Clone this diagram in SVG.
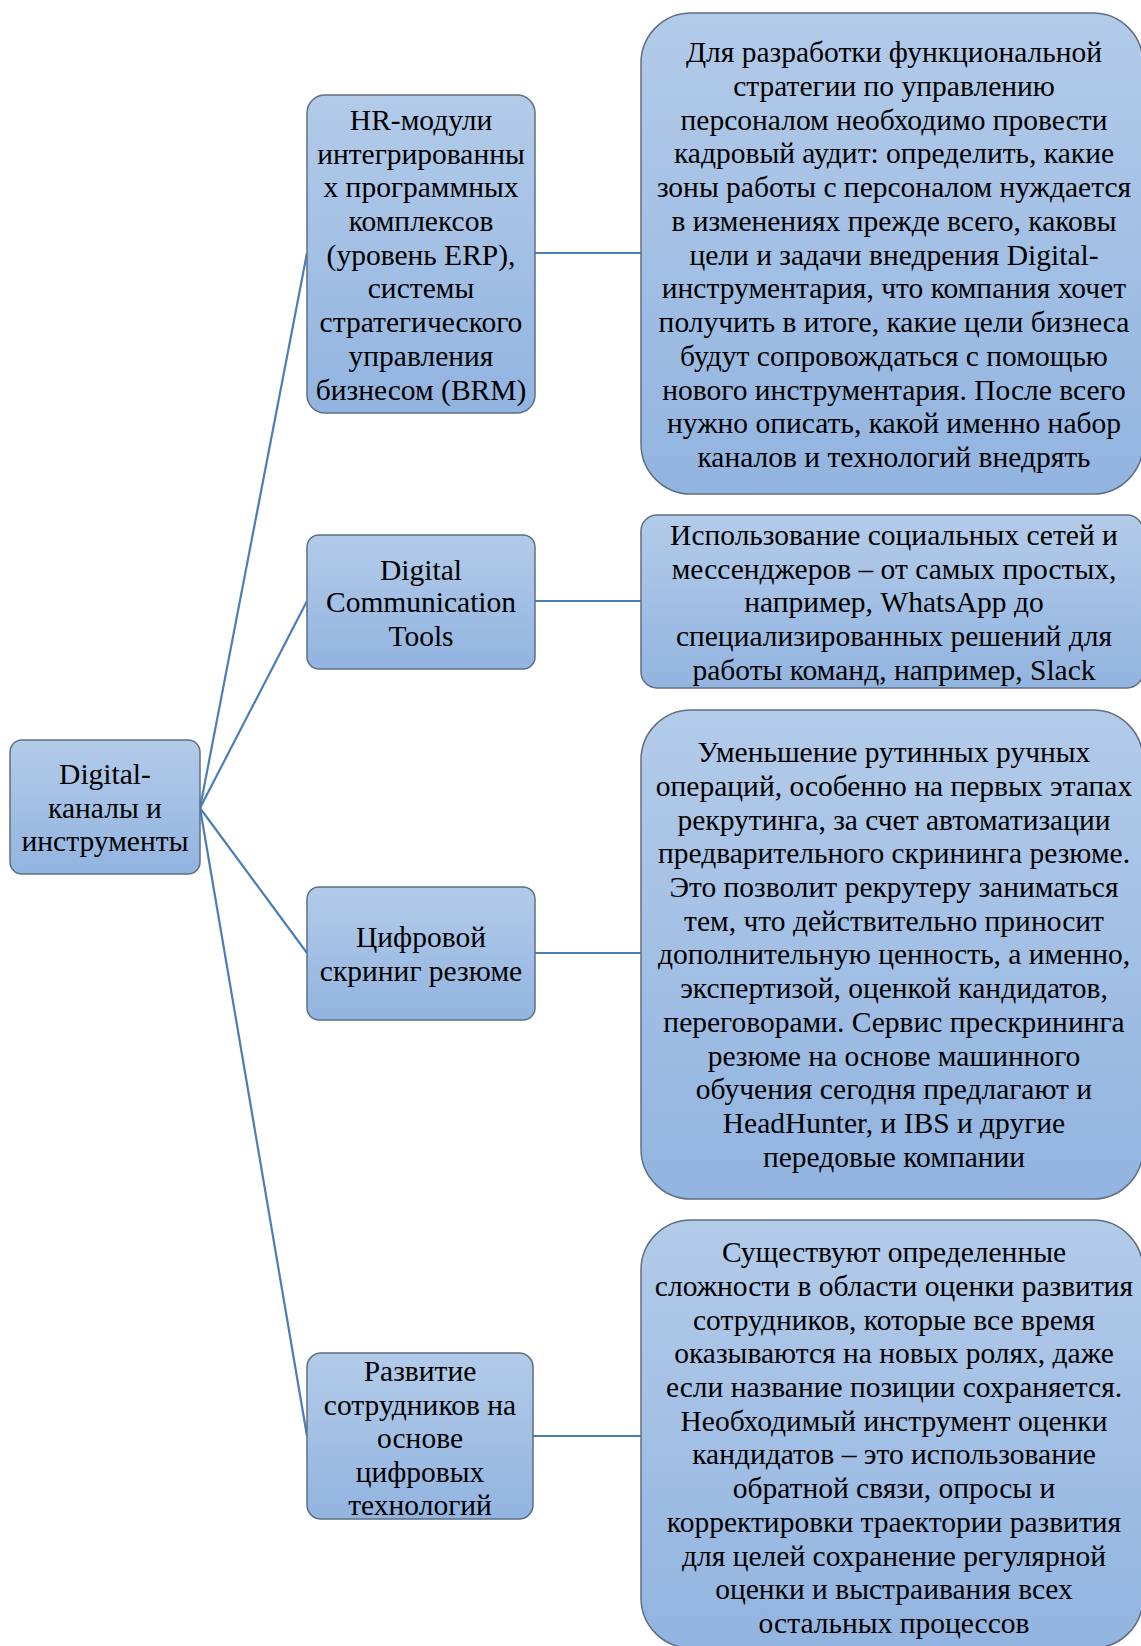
<svg xmlns="http://www.w3.org/2000/svg" width="1141" height="1646" viewBox="0 0 1141 1646">
  <defs>
    <linearGradient id="fillGrad" x1="0" y1="0" x2="0" y2="1">
      <stop offset="0" stop-color="#b3cbe9"/>
      <stop offset="1" stop-color="#92b4e0"/>
    </linearGradient>
    <style>
      .box { fill: url(#fillGrad); stroke: #5f6f82; stroke-width: 1.5; }
      .link { stroke: #4a7eb5; stroke-width: 2.2; fill: none; }
      text { font-family: "Liberation Serif", "Times New Roman", serif; font-size: 29.5px; fill: #000; text-anchor: middle; }
    </style>
  </defs>

  <!-- connectors -->
  <g id="connectors">
    <line class="link" x1="200" y1="808" x2="307" y2="253"/>
    <line class="link" x1="200" y1="808" x2="307" y2="601"/>
    <line class="link" x1="200" y1="808" x2="307" y2="953"/>
    <line class="link" x1="200" y1="808" x2="307" y2="1436"/>
    <line class="link" x1="535" y1="253" x2="641" y2="253"/>
    <line class="link" x1="535" y1="601" x2="641" y2="601"/>
    <line class="link" x1="535" y1="953" x2="641" y2="953"/>
    <line class="link" x1="533" y1="1436" x2="641" y2="1436"/>
  </g>

  <!-- root -->
  <g id="root">
    <rect class="box" x="10" y="740" width="190" height="134" rx="12"/>
    <text x="105" y="784">Digital-</text>
    <text x="105" y="818">каналы и</text>
    <text x="105" y="851">инструменты</text>
  </g>

  <!-- branch: HR modules -->
  <g id="hr-modules">
    <rect class="box" x="307" y="95" width="228" height="318" rx="18"/>
    <text x="421" y="130">HR-модули</text>
    <text x="421" y="164">интегрированны</text>
    <text x="421" y="197">х программных</text>
    <text x="421" y="231">комплексов</text>
    <text x="421" y="265">(уровень ERP),</text>
    <text x="421" y="298">системы</text>
    <text x="421" y="332">стратегического</text>
    <text x="421" y="366">управления</text>
    <text x="421" y="400">бизнесом (BRM)</text>
  </g>

  <g id="hr-modules-detail">
    <rect class="box" x="641" y="13" width="502" height="481" rx="50"/>
    <text x="894" y="62">Для разработки функциональной</text>
    <text x="894" y="96">стратегии по управлению</text>
    <text x="894" y="130">персоналом необходимо провести</text>
    <text x="894" y="163">кадровый аудит: определить, какие</text>
    <text x="894" y="197">зоны работы с персоналом нуждается</text>
    <text x="894" y="231">в изменениях прежде всего, каковы</text>
    <text x="894" y="265">цели и задачи внедрения Digital-</text>
    <text x="894" y="298">инструментария, что компания хочет</text>
    <text x="894" y="332">получить в итоге, какие цели бизнеса</text>
    <text x="894" y="366">будут сопровождаться с помощью</text>
    <text x="894" y="400">нового инструментария. После всего</text>
    <text x="894" y="433">нужно описать, какой именно набор</text>
    <text x="894" y="467">каналов и технологий внедрять</text>
  </g>

  <!-- branch: communication tools -->
  <g id="comm-tools">
    <rect class="box" x="307" y="535" width="228" height="134" rx="12"/>
    <text x="421" y="580">Digital</text>
    <text x="421" y="612">Communication</text>
    <text x="421" y="646">Tools</text>
  </g>

  <g id="comm-tools-detail">
    <rect class="box" x="641" y="515" width="502" height="173" rx="16"/>
    <text x="894" y="545">Использование социальных сетей и</text>
    <text x="894" y="579">мессенджеров – от самых простых,</text>
    <text x="894" y="612">например, WhatsApp до</text>
    <text x="894" y="646">специализированных решений для</text>
    <text x="894" y="680">работы команд, например, Slack</text>
  </g>

  <!-- branch: resume screening -->
  <g id="screening">
    <rect class="box" x="307" y="887" width="228" height="133" rx="12"/>
    <text x="421" y="947">Цифровой</text>
    <text x="421" y="981">скриниг резюме</text>
  </g>

  <g id="screening-detail">
    <rect class="box" x="641" y="710" width="502" height="489" rx="50"/>
    <text x="894" y="762">Уменьшение рутинных ручных</text>
    <text x="894" y="796">операций, особенно на первых этапах</text>
    <text x="894" y="830">рекрутинга, за счет автоматизации</text>
    <text x="894" y="863">предварительного скрининга резюме.</text>
    <text x="894" y="897">Это позволит рекрутеру заниматься</text>
    <text x="894" y="931">тем, что действительно приносит</text>
    <text x="894" y="964">дополнительную ценность, а именно,</text>
    <text x="894" y="998">экспертизой, оценкой кандидатов,</text>
    <text x="894" y="1032">переговорами. Сервис прескрининга</text>
    <text x="894" y="1066">резюме на основе машинного</text>
    <text x="894" y="1099">обучения сегодня предлагают и</text>
    <text x="894" y="1133">HeadHunter, и IBS и другие</text>
    <text x="894" y="1167">передовые компании</text>
  </g>

  <!-- branch: employee development -->
  <g id="development">
    <rect class="box" x="307" y="1353" width="226" height="166" rx="14"/>
    <text x="420" y="1381">Развитие</text>
    <text x="420" y="1415">сотрудников на</text>
    <text x="420" y="1448">основе</text>
    <text x="420" y="1482">цифровых</text>
    <text x="420" y="1515">технологий</text>
  </g>

  <g id="development-detail">
    <rect class="box" x="641" y="1220" width="502" height="428" rx="50"/>
    <text x="894" y="1262">Существуют определенные</text>
    <text x="894" y="1296">сложности в области оценки развития</text>
    <text x="894" y="1330">сотрудников, которые все время</text>
    <text x="894" y="1363">оказываются на новых ролях, даже</text>
    <text x="894" y="1397">если название позиции сохраняется.</text>
    <text x="894" y="1431">Необходимый инструмент оценки</text>
    <text x="894" y="1464">кандидатов – это использование</text>
    <text x="894" y="1498">обратной связи, опросы и</text>
    <text x="894" y="1532">корректировки траектории развития</text>
    <text x="894" y="1566">для целей сохранение регулярной</text>
    <text x="894" y="1599">оценки и выстраивания всех</text>
    <text x="894" y="1633">остальных процессов</text>
  </g>
</svg>
